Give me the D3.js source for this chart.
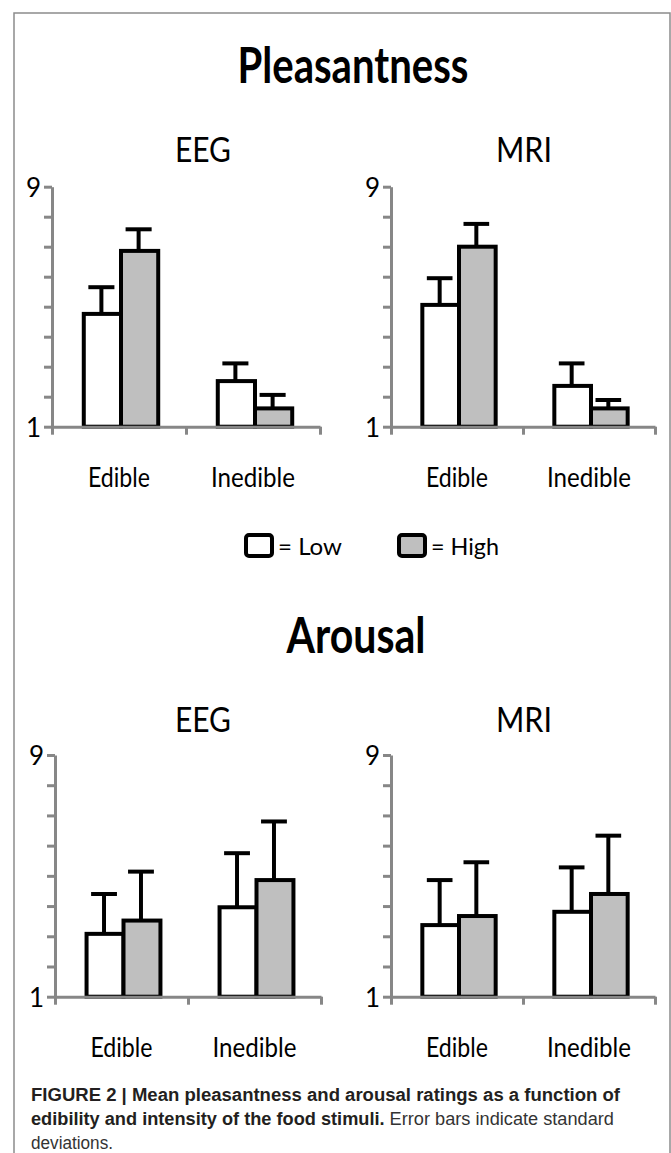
<!DOCTYPE html>
<html lang="en">
<head>
    <meta charset="UTF-8">
    <title>Figure 2 - Pleasantness and Arousal</title>
    <style>
        body { margin: 0; background: #fff; }
        svg { display: block; }
        .lbl { font-family: Lato, "Open Sans", sans-serif; fill: #000; }
        .cap { font-family: "Liberation Sans", Arial, sans-serif; fill: #231f20; }
    </style>
</head>
<body>
    <svg width="671" height="1153"></svg>

    <script src="https://d3js.org/d3.v7.min.js"></script>
    <script>
        // data (order: Edible-Low, Edible-High, Inedible-Low, Inedible-High)
        let groups = ["Edible", "Inedible"];
        let levels = ["Low", "High"];
        let yTicks = [1, 2, 3, 4, 5, 6, 7, 8, 9];
        let tickLabels = ["1", "9"];

        let pleasEEGMean = [4.76, 6.86, 2.52, 1.61];
        let pleasEEGSd   = [0.89, 0.72, 0.59, 0.45];
        let pleasMRIMean = [5.06, 7.00, 2.36, 1.61];
        let pleasMRISd   = [0.89, 0.76, 0.75, 0.28];
        let arousEEGMean = [3.08, 3.52, 3.96, 4.86];
        let arousEEGSd   = [1.32, 1.62, 1.79, 1.94];
        let arousMRIMean = [3.37, 3.67, 3.81, 4.40];
        let arousMRISd   = [1.49, 1.78, 1.47, 1.93];

        let svg = d3.select("svg");
        let axisGrey = "#878787";

        // outer frame (open at the bottom)
        svg.append("path")
            .attr("d", "M14,1153V13H670V1153")
            .attr("fill", "none")
            .attr("stroke", "#8c8c8c")
            .attr("stroke-width", 1.5);

        function squeeze(sel, w) {
            sel.attr("textLength", w).attr("lengthAdjust", "spacingAndGlyphs");
        }

        function label(txt, x, y, size, w, bold) {
            let t = svg.append("text")
                .attr("class", "lbl")
                .attr("x", x).attr("y", y)
                .attr("text-anchor", "middle")
                .style("font-size", size + "px")
                .style("font-weight", bold ? 700 : 400)
                .text(txt);
            squeeze(t, w);
            return t;
        }

        function panel(means, sds, x0, x1, yTop, yBot) {
            let g = svg.append("g");
            let y = d3.scaleLinear().domain([1, 9]).range([yBot, yTop]);
            let x = d3.scaleBand().domain(groups).range([x0, x1]);
            let xi = d3.scaleBand().domain(levels).range([0, x.bandwidth()]).paddingOuter(0.8);

            let rows = [];
            groups.forEach(function (grp, gi) {
                levels.forEach(function (lev, li) {
                    let k = gi * 2 + li;
                    rows.push({ grp: grp, lev: lev, m: means[k], sd: sds[k] });
                });
            });

            // error bars (upper only)
            let cap = xi.bandwidth() * 0.7;
            rows.forEach(function (d) {
                let cx = x(d.grp) + xi(d.lev) + xi.bandwidth() / 2 + 1;
                g.append("line")
                    .attr("x1", cx).attr("x2", cx)
                    .attr("y1", y(d.m)).attr("y2", y(d.m + d.sd))
                    .attr("stroke", "#000").attr("stroke-width", 4);
                g.append("line")
                    .attr("x1", cx - cap / 2).attr("x2", cx + cap / 2)
                    .attr("y1", y(d.m + d.sd)).attr("y2", y(d.m + d.sd))
                    .attr("stroke", "#000").attr("stroke-width", 4);
            });

            g.selectAll("rect.bar").data(rows).enter().append("rect")
                .attr("class", "bar")
                .attr("x", d => x(d.grp) + xi(d.lev) + 2)
                .attr("y", d => y(d.m))
                .attr("width", xi.bandwidth())
                .attr("height", d => y(1) - y(d.m))
                .attr("fill", d => d.lev === "Low" ? "#fff" : "#bfbfbf")
                .attr("stroke", "#000")
                .attr("stroke-width", 4);

            // y axis
            let ya = g.append("g")
                .attr("transform", "translate(" + x0 + ",0)")
                .call(d3.axisLeft(y).tickValues(yTicks).tickSize(8).tickSizeOuter(0)
                    .tickFormat(d => tickLabels.includes(String(d)) ? d : ""));
            // x axis with ticks at the group boundaries
            let xb = d3.scaleLinear().domain([0, groups.length]).range([x0, x1]);
            let xa = g.append("g")
                .attr("transform", "translate(0," + yBot + ")")
                .call(d3.axisBottom(xb).tickValues(d3.range(groups.length + 1)).tickSize(8).tickSizeOuter(0).tickFormat(""));
            [ya, xa].forEach(function (a) {
                a.select(".domain").attr("stroke", axisGrey).attr("stroke-width", 3);
                a.selectAll(".tick line").attr("stroke", axisGrey).attr("stroke-width", 3);
            });
            ya.selectAll(".tick text")
                .attr("class", "lbl")
                .attr("x", -11)
                .attr("dy", "0.36em")
                .style("font-size", "26px");

            // category labels
            groups.forEach(function (grp) {
                label(grp, x(grp) + x.bandwidth() / 2, yBot + 60, 26, grp === "Edible" ? 62 : 84, false);
            });
        }

        // headings
        label("Pleasantness", 353, 83, 50, 231, true);
        label("EEG", 203, 162, 34, 56, false);
        label("MRI", 524, 162, 34, 56, false);
        label("Arousal", 356, 653, 50, 139, true);
        label("EEG", 203, 732, 34, 56, false);
        label("MRI", 524, 732, 34, 56, false);

        panel(pleasEEGMean, pleasEEGSd, 52, 320, 186.7, 426.7);
        panel(pleasMRIMean, pleasMRISd, 391, 655, 186.7, 426.7);
        panel(arousEEGMean, arousEEGSd, 55, 321, 755, 996.7);
        panel(arousMRIMean, arousMRISd, 391, 655, 755, 996.7);

        // legend
        let legend = svg.append("g");
        levels.forEach(function (lev, i) {
            let lx = [246, 399][i];
            legend.append("rect")
                .attr("x", lx).attr("y", 535)
                .attr("width", 26).attr("height", 21)
                .attr("rx", 3)
                .attr("fill", lev === "Low" ? "#fff" : "#bfbfbf")
                .attr("stroke", "#000").attr("stroke-width", 4);
            let t = legend.append("text")
                .attr("class", "lbl")
                .attr("x", lx + 32).attr("y", 555)
                .style("font-size", "24px")
                .text("= " + lev);
            squeeze(t, lev === "Low" ? 64 : 68);
        });

        // caption
        let c1 = svg.append("text").attr("class", "cap")
            .attr("x", 31).attr("y", 1101)
            .style("font-size", "17.5px").style("font-weight", 700)
            .text("FIGURE 2 | Mean pleasantness and arousal ratings as a function of");
        squeeze(c1, 589);
        let c2 = svg.append("text").attr("class", "cap")
            .attr("x", 31).attr("y", 1125)
            .style("font-size", "17.5px");
        c2.append("tspan").style("font-weight", 700).text("edibility and intensity of the food stimuli.");
        c2.append("tspan").style("fill", "#333").text(" Error bars indicate standard");
        squeeze(c2, 583);
        let c3 = svg.append("text").attr("class", "cap")
            .attr("x", 31).attr("y", 1149)
            .style("font-size", "17.5px")
            .style("fill", "#333")
            .text("deviations.");
        squeeze(c3, 82);
    </script>
</body>
</html>
